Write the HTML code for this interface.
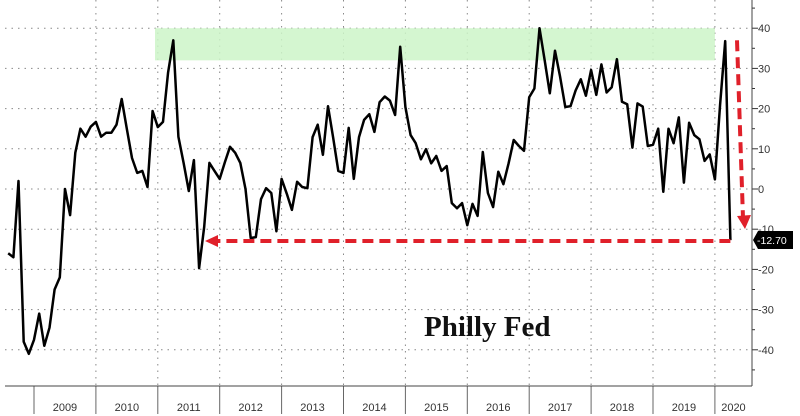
<!DOCTYPE html>
<html><head><meta charset="utf-8">
<style>
html,body{margin:0;padding:0;background:#fff;}
svg{display:block;font-family:"Liberation Sans",sans-serif;}
</style></head>
<body>
<svg width="800" height="416" viewBox="0 0 800 416" xmlns="http://www.w3.org/2000/svg">
<g id="grid"></g>
<rect id="band" fill="#ccf5c8" opacity="0.85"></rect>
<g id="axes"></g>
<path id="line" fill="none" stroke="#000" stroke-width="2.5" stroke-linejoin="round"></path>
<g id="annot"></g>
<text x="424" y="336" font-family="Liberation Serif, serif" font-weight="bold" font-size="29" fill="#111">Philly Fed</text>
</svg>
<script>
const startYear = 2008, startMonth = 7; // Aug 2008 (0-based month)
const values = [-16,-17,2,-38,-41,-37.5,-31,-39,-34.5,-25,-22,0,-6.5,9,15,13,15.5,16.7,13,14,14,16,22.4,
15,7.7,4,4.5,0.5,19.4,15.4,16.7,29,37,13,6.5,-0.5,7.2,-19.7,-9.4,6.5,4.5,2.5,6.7,10.5,9,6.5,0,-12.2,-12,-2.5,0.2,-1,-10.5,2.5,-1.2,-5.2,1.8,0.5,0.2,12.9,16,8.5,20.6,12.7,4.5,4,15.2,2.5,12.9,17.2,18.6,14.2,21.6,23,22,18.4,35.4,
20.4,13.4,11.4,7.4,9.9,6.4,8.2,4.5,5.7,-3.5,-4.8,-3.5,-9,-3.7,-6.7,9.2,-1,-4.5,4.3,1.2,6.4,12.2,10.7,9.5,22.8,25,40,32,23.8,34.4,27.9,20.4,20.6,24.5,27.3,23.2,29.6,23.4,31,24,25.3,32.3,21.7,21.1,10.3,21.3,20.5,10.7,11,15,-0.7,15,11.4,17.8,1.6,16.5,13.4,12.4,7,8.6,2.4,21,36.8,-12.7];
const yTicks = [40,30,20,10,0,-10,-20,-30,-40];
const yearLabels = [2009,2010,2011,2012,2013,2014,2015,2016,2017,2018,2019,2020];
const lastLabel = "-12.70";
const bandRange = [32,40];

const NS="http://www.w3.org/2000/svg";
const X0=34, PXY=61.9;
function xm(i){const t=(startYear+ (startMonth+i)/12); return X0+(t-2009)*PXY;}
function xy(yr){return X0+(yr-2009)*PXY;}
function y(v){return 189 - v*4.02;}
function mk(tag,attrs,parent){const e=document.createElementNS(NS,tag);for(const k in attrs)e.setAttribute(k,attrs[k]);parent.appendChild(e);return e;}
const grid=document.getElementById('grid'), axes=document.getElementById('axes'), annot=document.getElementById('annot');
const AX=752, BY=386;
yTicks.forEach(v=>{
  const l=mk('line',{x1:5,x2:AX,y1:y(v),y2:y(v),stroke:'#888','stroke-width':1,'stroke-dasharray':'1.5 5'},grid);
  
  
  const t=mk('line',{x1:AX,x2:AX+6,y1:y(v),y2:y(v),stroke:'#333','stroke-width':1},axes);
  
  
  const tx=mk('text',{x:AX+6,y:y(v)+4,'font-size':11,fill:'#333'},axes);
  tx.textContent=v;
  
  
});
for(let v=45;v>=-45;v-=10){const t=mk('line',{x1:AX,x2:AX+3,y1:y(v),y2:y(v),stroke:'#333','stroke-width':1},axes);
  
  }
yearLabels.forEach(yr=>{
  const x=xy(yr);
  if(yr>2009){const g=mk('line',{x1:x,x2:x,y1:0,y2:BY,stroke:'#888','stroke-width':1,'stroke-dasharray':'1.5 5'},grid);
    
    }
  const t=mk('line',{x1:x,x2:x,y1:BY,y2:414,stroke:'#666','stroke-width':1},axes);
  
  
  const nx = yr===2020 ? (x+AX)/2 : x+PXY/2;
  const tx=mk('text',{x:nx,y:411,'font-size':11,fill:'#333','text-anchor':'middle'},axes);
  tx.textContent=yr;
  
  
});
const ax1=mk('line',{x1:AX,x2:AX,y1:0,y2:BY,stroke:'#444','stroke-width':1},axes);


const ax2=mk('line',{x1:5,x2:AX,y1:BY,y2:BY,stroke:'#444','stroke-width':1},axes);


const band=document.getElementById('band');
band.setAttribute('x',155);band.setAttribute('width',xy(2020)-155);
band.setAttribute('y',y(bandRange[1]));band.setAttribute('height',y(bandRange[0])-y(bandRange[1]));
let d='';values.forEach((v,i)=>{d+=(i?'L':'M')+xm(i).toFixed(1)+','+y(v).toFixed(1);});
document.getElementById('line').setAttribute('d',d);
// annotations
const lx=xm(values.length-1), ly=y(values[values.length-1]);
const hl=mk('line',{x1:lx,x2:216,y1:ly+1,y2:ly+1,stroke:'#e0202a','stroke-width':4,'stroke-dasharray':'11 6'},annot);


const ha=mk('path',{d:`M205,${ly+1} L218,${ly-5} L218,${ly+7} Z`,fill:'#e0202a'},annot);


const vl=mk('line',{x1:737,x2:743,y1:y(37),y2:218,stroke:'#e0202a','stroke-width':4,'stroke-dasharray':'11 6'},annot);


const va=mk('path',{d:`M737,216 L751,215 L745,229 Z`,fill:'#e0202a'},annot);


const tag=mk('path',{d:`M753,${ly} L758,${ly-9} L793,${ly-9} L793,${ly+9} L758,${ly+9} Z`,fill:'#000'},annot);


const tt=mk('text',{x:757,y:ly+4,'font-size':10.5,fill:'#fff'},annot);
tt.textContent=lastLabel;


</script>
</body></html>
